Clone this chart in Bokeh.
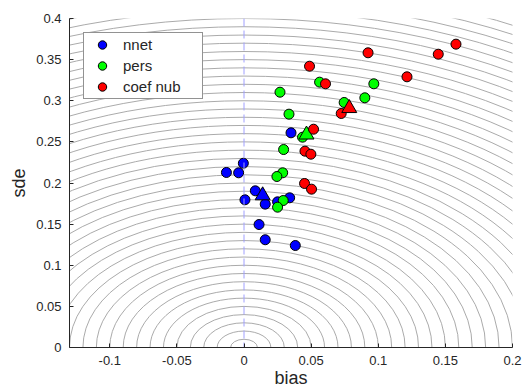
import numpy as np
from bokeh.plotting import figure
from bokeh.models import ColumnDataSource, Span, FixedTicker, CustomJSTickFormatter
from bokeh.embed import file_html
from bokeh.resources import INLINE

# ---- data ----
nnet_bias = [-0.0005, -0.0131, -0.004, 0.0084, 0.0007, 0.0158, 0.025, 0.034, 0.0112, 0.0158, 0.0382, 0.035]
nnet_sde = [0.224, 0.2128, 0.2124, 0.1905, 0.1796, 0.1743, 0.1771, 0.182, 0.1495, 0.131, 0.124, 0.261]

pers_bias = [0.0268, 0.0335, 0.0295, 0.0288, 0.0245, 0.0292, 0.025, 0.0563, 0.0967, 0.09, 0.0746, 0.0436]
pers_sde = [0.3104, 0.2837, 0.2407, 0.2124, 0.2079, 0.1787, 0.1706, 0.3226, 0.3206, 0.3036, 0.2979, 0.2557]

coef_bias = [0.0924, 0.1447, 0.1579, 0.1214, 0.0488, 0.0607, 0.0724, 0.0518, 0.0454, 0.0498, 0.0451, 0.0503]
coef_sde = [0.3583, 0.3566, 0.3688, 0.3291, 0.342, 0.3206, 0.2845, 0.2654, 0.2387, 0.235, 0.1994, 0.1925]

series_names = ["nnet", "pers", "coef nub"]
series_colors = ["#0000ff", "#00ff00", "#ff0000"]

contour_radii = [0.01, 0.02, 0.03, 0.04, 0.05, 0.06, 0.07, 0.08, 0.09, 0.10,
                 0.11, 0.12, 0.13, 0.14, 0.15, 0.16, 0.17, 0.18, 0.19, 0.20,
                 0.21, 0.22, 0.23, 0.24, 0.25, 0.26, 0.27, 0.28, 0.29, 0.30,
                 0.31, 0.32, 0.33, 0.34, 0.35, 0.36, 0.37, 0.38, 0.39, 0.40,
                 0.41, 0.42, 0.43, 0.44, 0.45]

x_ticks = [-0.1, -0.05, 0, 0.05, 0.1, 0.15, 0.2]
y_ticks = [0, 0.05, 0.1, 0.15, 0.2, 0.25, 0.3, 0.35, 0.4]

FONT = "Liberation Sans"

p = figure(width=523, height=392, x_range=(-0.13, 0.2), y_range=(0, 0.4),
           output_backend="svg", toolbar_location=None,
           min_border_left=69, min_border_right=11, min_border_top=18, min_border_bottom=45)
p.xgrid.visible = False
p.ygrid.visible = False
p.outline_line_color = None
p.background_fill_color = "white"

# contour circles (centered at origin)
diam = [2 * r for r in contour_radii]
csrc = ColumnDataSource(dict(x=[0] * len(diam), y=[0] * len(diam), w=diam, h=diam))
p.ellipse(x="x", y="y", width="w", height="h", source=csrc,
          fill_color=None, line_color="#a0a0a0", line_width=0.9)

span = Span(location=0, dimension="height", line_color="#a0a0ff",
            line_width=1, line_dash="8 4", level="glyph")
p.add_layout(span)

all_series = [(nnet_bias, nnet_sde), (pers_bias, pers_sde), (coef_bias, coef_sde)]
for (bx, sy), name, col in zip(all_series, series_names, series_colors):
    src = ColumnDataSource(dict(x=bx, y=sy))
    p.scatter("x", "y", source=src, marker="circle", size=10,
              fill_color=col, line_color="black", line_width=1, legend_label=name)
    msrc = ColumnDataSource(dict(x=[float(np.mean(bx))], y=[float(np.mean(sy))]))
    p.scatter("x", "y", source=msrc, marker="triangle", size=15,
              fill_color=col, line_color="black", line_width=1)

fmt = CustomJSTickFormatter(code="return Number(tick.toFixed(4)).toString();")
for ax, ticks, lab in ((p.xaxis[0], x_ticks, "bias"), (p.yaxis[0], y_ticks, "sde")):
    ax.ticker = FixedTicker(ticks=ticks)
    ax.formatter = fmt
    ax.axis_label = lab
    ax.axis_label_text_font = FONT
    ax.axis_label_text_font_size = "18px"
    ax.axis_label_text_font_style = "normal"
    ax.axis_label_text_color = "#262626"
    ax.major_label_text_font = FONT
    ax.major_label_text_font_size = "13px"
    ax.major_label_text_color = "#262626"
    ax.axis_line_color = "#262626"
    ax.major_tick_line_color = "#262626"
    ax.major_tick_in = 4
    ax.major_tick_out = 0
    ax.minor_tick_line_color = None

p.xaxis[0].major_label_standoff = 8
p.xaxis[0].axis_label_standoff = 0
p.yaxis[0].major_label_standoff = 8
p.yaxis[0].axis_label_standoff = 4

leg = p.legend[0]
leg.location = "top_left"
leg.margin = 14
leg.padding = 1
leg.spacing = 0
leg.label_height = 21
leg.glyph_height = 21
leg.glyph_width = 34
leg.label_standoff = 4
leg.label_width = 78
leg.label_text_font = FONT
leg.label_text_font_size = "15px"
leg.label_text_color = "#262626"
leg.border_line_color = "#262626"
leg.border_line_width = 1
leg.background_fill_alpha = 1.0

open("out.html", "w").write(file_html(p, INLINE))
